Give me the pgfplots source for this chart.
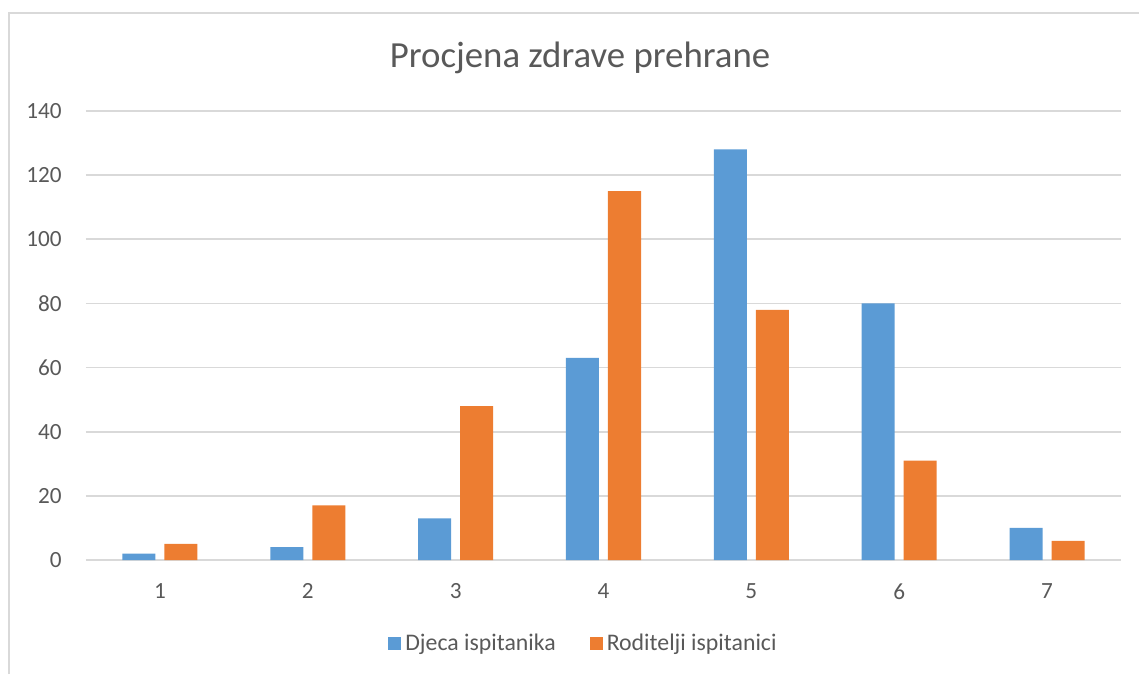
\documentclass[border=0pt]{standalone}
\usepackage{pgfplots}
\pgfplotsset{compat=1.18}
\usepackage{fontspec}
\setmainfont{Carlito}
\definecolor{cblue}{HTML}{5B9BD5}
\definecolor{corange}{HTML}{ED7D31}
\definecolor{ctext}{HTML}{595959}
\definecolor{cgrid}{HTML}{D9D9D9}
\begin{document}
\begin{tikzpicture}
\useasboundingbox (0,0) rectangle (569.5pt,337pt);
\draw[cgrid, line width=0.9pt] (4.5pt,0pt) -- (4.5pt,330.5pt) -- (569.5pt,330.5pt);
\node[text=ctext, font=\fontsize{18.4pt}{22pt}\selectfont] at (290pt,308pt) {Procjena zdrave prehrane};
\begin{axis}[
  at={(43pt,57pt)}, anchor=south west,
  scale only axis, width=517.5pt, height=224.5pt,
  ybar, bar width=16.5pt,
  xmin=0.5, xmax=7.5, ymin=0, ymax=140,
  xtick={1,2,3,4,5,6,7}, ytick={0,20,...,140},
  axis line style={draw=none},
  major tick length=0pt,
  ymajorgrids, grid style={cgrid, line width=0.9pt},
  /pgf/number format/assume math mode=true,
  tick label style={text=ctext, font=\fontsize{11.6pt}{14pt}\selectfont},
  yticklabel style={inner sep=0pt, xshift=-12pt, anchor=east},
  xticklabel style={inner sep=0pt, yshift=-11.5pt, anchor=north},
  legend style={at={(0.4816,-0.187)}, anchor=center, draw=none, fill=none,
    legend columns=2, font=\fontsize{11.9pt}{14pt}\selectfont, text=ctext,
    /tikz/every even column/.append style={column sep=15pt}},
]
\addplot[fill=cblue, draw=none, bar shift=-10.5pt,
  legend image code/.code={\fill[cblue] (0pt,-3.25pt) rectangle (6.5pt,3.25pt);}]
  coordinates {(1,2) (2,4) (3,13) (4,63) (5,128) (6,80) (7,10)};
\addplot[fill=corange, draw=none, bar shift=10.5pt,
  legend image code/.code={\fill[corange] (0pt,-3.25pt) rectangle (6.5pt,3.25pt);}]
  coordinates {(1,5) (2,17) (3,48) (4,115) (5,78) (6,31) (7,6)};
\legend{Djeca ispitanika, Roditelji ispitanici}
\end{axis}
\end{tikzpicture}
\end{document}
